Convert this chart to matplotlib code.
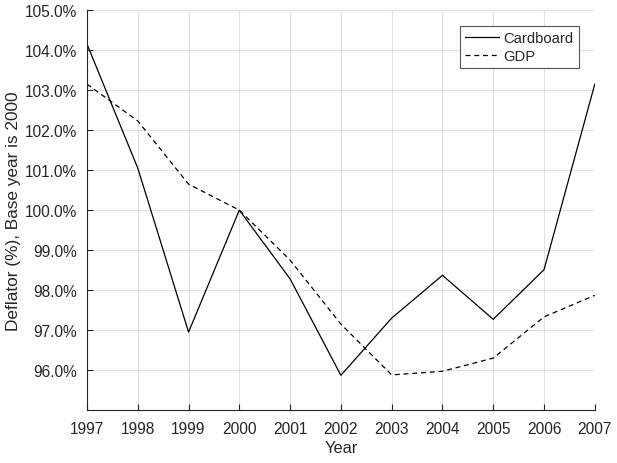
import matplotlib
matplotlib.use('Agg')
import matplotlib.pyplot as plt
from matplotlib.ticker import FuncFormatter

plt.rcParams['font.family'] = ['Liberation Sans', 'DejaVu Sans']

# Data
years = [1997, 1998, 1999, 2000, 2001, 2002, 2003, 2004, 2005, 2006, 2007]
cardboard = [104.15, 101.05, 96.95, 100.0, 98.28, 95.87, 97.3, 98.37, 97.27, 98.51, 103.15]
gdp = [103.15, 102.23, 100.65, 100.0, 98.75, 97.15, 95.88, 95.97, 96.3, 97.33, 97.87]
yticks = [96, 97, 98, 99, 100, 101, 102, 103, 104, 105]

txt = '#262626'

fig = plt.figure(figsize=(6.17, 4.64), dpi=100)
ax = fig.add_axes([0.141, 0.114, 0.823, 0.862])

ax.plot(years, cardboard, color='black', linewidth=0.9, linestyle='-', label='Cardboard')
ax.plot(years, gdp, color='black', linewidth=0.9, linestyle=(0, (4, 3)), label='GDP')

ax.set_xlim(1997, 2007)
ax.set_ylim(95, 105)
ax.set_xticks(years)
ax.set_yticks(yticks)
ax.yaxis.set_major_formatter(FuncFormatter(lambda v, p: f'{v:.1f}%'))

ax.grid(True, color='#e3e3e3', linewidth=0.8)
ax.set_axisbelow(True)
for s in ['top', 'right']:
    ax.spines[s].set_visible(False)
for s in ['left', 'bottom']:
    ax.spines[s].set_color(txt)
    ax.spines[s].set_linewidth(0.8)

ax.tick_params(axis='both', direction='in', length=4, width=0.8, colors=txt, labelsize=11.2)
ax.tick_params(axis='x', pad=8)
ax.tick_params(axis='y', pad=7)

ax.set_xlabel('Year', fontsize=11.8, color=txt, labelpad=3)
ax.set_ylabel('Deflator (%), Base year is 2000', fontsize=12.4, color=txt, labelpad=3)

leg = ax.legend(loc='upper right', bbox_to_anchor=(0.968, 0.961), fontsize=10.6,
                fancybox=False, framealpha=1, edgecolor='#555555', handlelength=2.3,
                handletextpad=0.3, borderpad=0.35, labelspacing=0.3, borderaxespad=0)
leg.get_frame().set_linewidth(0.8)
for t in leg.get_texts():
    t.set_color(txt)

fig.savefig('out.png', dpi=100)
